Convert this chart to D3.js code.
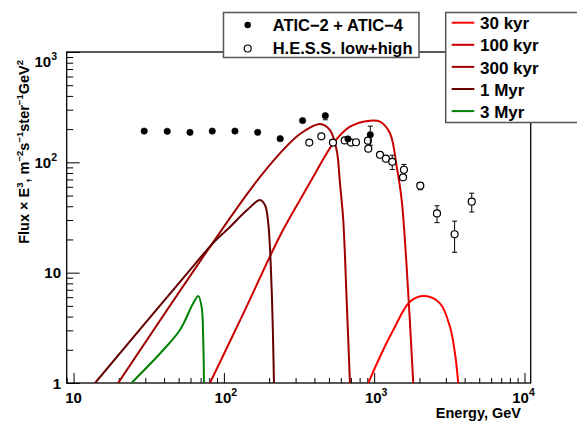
<!DOCTYPE html>
<html><head><meta charset="utf-8">
<script src="https://cdn.jsdelivr.net/npm/d3@7"></script>
<style>
body{margin:0;background:#fff}
svg{display:block}
text{font-family:"Liberation Sans",Arial,Helvetica,sans-serif;font-weight:bold;fill:#000}
</style>
</head><body>
<svg id="c" width="577" height="421"></svg>
<script>
// ---------------- data ----------------
const xTickValues = [10, 100, 1000, 10000];
const yTickValues = [1, 10, 100, 1000];
const xTitle = "Energy, GeV";

// ATIC-2 + ATIC-4 (filled circles)
const aticE   = [29.5, 42.0, 59.5, 83.7, 118.5, 167.8, 237, 334, 473, 669, 942];
const aticF   = [192, 191, 187, 192, 192, 187, 164, 239, 265, 163, 178];
const aticErr = [3, 3, 3, 3, 3, 3, 4, 7, 22, 10, 35];

// H.E.S.S. low+high (open circles)
const hessE   = [370, 445, 532, 637, 701, 757, 909, 914, 1093, 1197, 1319, 1578, 1555, 2027, 2618, 3428, 4458];
const hessF   = [151, 172, 151, 158, 151, 152, 157, 133, 117, 108, 101, 85.7, 73.1, 61.4, 34.4, 22.3, 44.0];
const hessErr = [5, 5, 5, 5, 5, 5, 5, 5, 8, 6, 15, 10, 5, 5, 6, 7, 8.5];

// model curves
const curveNames = ["30 kyr", "100 kyr", "300 kyr", "1 Myr", "3 Myr"];
const c30kE  = [914, 1093, 1340, 1730, 2153, 2740, 3193, 3449, 3626];
const c30kF  = [1.0, 1.73, 3.02, 5.45, 6.13, 5.27, 3.23, 1.85, 1.0];
const c100kE = [80.8, 138.1, 236, 320.8, 393.6, 534.6, 690, 937.6, 1093, 1274, 1413, 1524, 1645, 1820];
const c100kF = [1.0, 4.58, 21.5, 45.5, 74.0, 148.6, 210.3, 238.4, 233.4, 183.2, 91.2, 45.5, 11.3, 1.0];
const c300kE = [19.8, 149.2, 236, 320.8, 435.5, 508, 562.6, 592, 622.6, 656, 690];
const c300kF = [1.0, 56.1, 120.7, 180.6, 222.5, 196.3, 129.3, 64.9, 30.0, 5.64, 1.0];
const c1ME   = [13.9, 59.6, 84.6, 109.7, 142.6, 173.8, 187.6, 197.4, 208, 215.4];
const c1MF   = [1.0, 10.6, 18.5, 25.9, 36.9, 45.5, 41.0, 28.0, 6.95, 1.0];
const c3ME   = [24.3, 39.5, 51.0, 62.5, 67.6, 71.1, 72.9, 73.7];
const c3MF   = [1.0, 1.99, 3.02, 5.27, 6.13, 4.91, 2.45, 1.0];

const legendPoints = ["ATIC\u22122 + ATIC\u22124", "H.E.S.S. low+high"];

// ---------------- styles ----------------
const curveColors = ["#ff0000", "#cc0000", "#a00000", "#660000", "#008000"];

// ---------------- drawing ----------------
const svg = d3.select("#c");
const L = 66.7, R = 530.7, T = 52, B = 383;
const x = d3.scaleLog().domain([9.0, 11000]).range([L, R]);
const y = d3.scaleLog().domain([1, 1000]).range([B, T]);

svg.append("defs").append("clipPath").attr("id", "clip")
  .append("rect").attr("x", L).attr("y", T).attr("width", R - L).attr("height", B - T);

function minors(lo, hi) {
  const out = [];
  for (let d = lo; d < hi; d *= 10) for (let k = 2; k <= 9; k++) out.push(d * k);
  return out;
}
const xMinor = minors(1, 10000).filter(v => v >= 9.0 && v <= 11000);
const yMinor = minors(1, 1000);

function tickAxis(axis, vals, size, tr) {
  svg.append("g").attr("transform", tr)
    .call(axis.tickValues(vals).tickSize(size).tickSizeOuter(0).tickFormat(""))
    .call(g => g.select(".domain").remove())
    .selectAll("line").attr("stroke", "#000").attr("stroke-width", 1);
}
tickAxis(d3.axisBottom(x), xMinor, -5, `translate(0,${B})`);
tickAxis(d3.axisBottom(x), xTickValues, -10, `translate(0,${B})`);
tickAxis(d3.axisLeft(y), yMinor, -6.5, `translate(${L},0)`);
tickAxis(d3.axisLeft(y), yTickValues, -13, `translate(${L},0)`);

// frame
svg.append("rect").attr("x", L).attr("y", T).attr("width", R - L).attr("height", B - T)
  .attr("fill", "none").attr("stroke", "#000").attr("stroke-width", 1.3);

function powLabel(sel, v) {
  const e = Math.round(Math.log10(v));
  if (e === 0) sel.text("1");
  else if (e === 1) sel.text("10");
  else {
    sel.text("10");
    sel.append("tspan").attr("dy", -7).attr("font-size", 10.5).text(e);
  }
}
xTickValues.forEach((v, i) => {
  const t = svg.append("text").attr("x", x(v) - (i === xTickValues.length - 1 ? 3 : 0) + (i > 0 ? 2 : 0))
    .attr("y", 403).attr("text-anchor", "middle").attr("font-size", 15);
  powLabel(t, v);
});
yTickValues.forEach((v, i) => {
  const t = svg.append("text").attr("x", 61 - (i > 1 ? 4 : 0))
    .attr("y", y(v) + 5.5 + (i === yTickValues.length - 1 ? 9 : 0))
    .attr("text-anchor", "end").attr("font-size", 15);
  powLabel(t, v);
});

// axis titles
svg.append("text").attr("x", 521).attr("y", 417.5).attr("text-anchor", "end")
  .attr("font-size", 14.5).text(xTitle);

const yt = svg.append("text").attr("transform", "translate(29,60) rotate(-90)")
  .attr("text-anchor", "end").attr("font-size", 14.5);
yt.append("tspan").text("Flux \u00d7 E");
yt.append("tspan").attr("dy", -6).attr("font-size", 9.5).text("3");
yt.append("tspan").attr("dy", 6).text(", m");
yt.append("tspan").attr("dy", -6).attr("font-size", 9.5).text("\u22122");
yt.append("tspan").attr("dy", 6).text("s");
yt.append("tspan").attr("dy", -6).attr("font-size", 9.5).text("\u22121");
yt.append("tspan").attr("dy", 6).text("ster");
yt.append("tspan").attr("dy", -6).attr("font-size", 9.5).text("\u22121");
yt.append("tspan").attr("dy", 6).text("GeV");
yt.append("tspan").attr("dy", -6).attr("font-size", 9.5).text("2");

// curves
const curves = [[c30kE, c30kF], [c100kE, c100kF], [c300kE, c300kF], [c1ME, c1MF], [c3ME, c3MF]];
const line = d3.line().x(d => x(d[0])).y(d => y(d[1])).curve(d3.curveCatmullRom.alpha(0.5));
const cg = svg.append("g").attr("clip-path", "url(#clip)");
curves.forEach((c, i) => {
  const pts = c[0].map((e, j) => [e, c[1][j]]);
  cg.append("path").attr("d", line(pts)).attr("fill", "none")
    .attr("stroke", curveColors[i]).attr("stroke-width", 2);
});

// points with error bars
function drawPoints(E, F, Err, open) {
  const g = svg.append("g");
  E.forEach((e, j) => {
    const cx = x(e), cy = y(F[j]);
    const ytop = y(F[j] + Err[j]), ybot = y(Math.max(F[j] - Err[j], 0.5));
    const r = 3.4;
    if (cy - ytop > r + 0.5) {
      g.append("line").attr("x1", cx).attr("x2", cx).attr("y1", ytop).attr("y2", cy - r).attr("stroke", "#000");
      g.append("line").attr("x1", cx - 2.5).attr("x2", cx + 2.5).attr("y1", ytop).attr("y2", ytop).attr("stroke", "#000");
    }
    if (ybot - cy > r + 0.5) {
      g.append("line").attr("x1", cx).attr("x2", cx).attr("y1", cy + r).attr("y2", ybot).attr("stroke", "#000");
      g.append("line").attr("x1", cx - 2.5).attr("x2", cx + 2.5).attr("y1", ybot).attr("y2", ybot).attr("stroke", "#000");
    }
    g.append("circle").attr("cx", cx).attr("cy", cy).attr("r", open ? 3.5 : 3.2)
      .attr("fill", open ? "#fff" : "#000").attr("stroke", "#000").attr("stroke-width", open ? 1.2 : 0.6);
  });
}
drawPoints(hessE, hessF, hessErr, true);
drawPoints(aticE, aticF, aticErr, false);

// legend 1
const lg1 = svg.append("g");
lg1.append("rect").attr("x", 223.5).attr("y", 12.5).attr("width", 195.5).attr("height", 45)
  .attr("fill", "#fff").attr("stroke", "#555").attr("stroke-width", 1.5);
lg1.append("circle").attr("cx", 247.7).attr("cy", 25).attr("r", 3.2).attr("fill", "#000");
lg1.append("circle").attr("cx", 247.7).attr("cy", 48.5).attr("r", 3.5).attr("fill", "#fff")
  .attr("stroke", "#000").attr("stroke-width", 1.2);
legendPoints.forEach((s, i) => {
  lg1.append("text").attr("x", 272.7).attr("y", 31 + i * 23).attr("font-size", 16.5).text(s);
});

// legend 2
const lg2 = svg.append("g");
lg2.append("rect").attr("x", 445.7).attr("y", 12.5).attr("width", 140).attr("height", 110)
  .attr("fill", "#fff").attr("stroke", "#555").attr("stroke-width", 1.5);
curveNames.forEach((s, i) => {
  const ly = 22.7 + i * 22.1;
  lg2.append("line").attr("x1", 451.7).attr("x2", 474.3).attr("y1", ly).attr("y2", ly)
    .attr("stroke", curveColors[i]).attr("stroke-width", 2);
  lg2.append("text").attr("x", 480).attr("y", ly + 6.6).attr("font-size", 17).text(s);
});
</script>
</body></html>
